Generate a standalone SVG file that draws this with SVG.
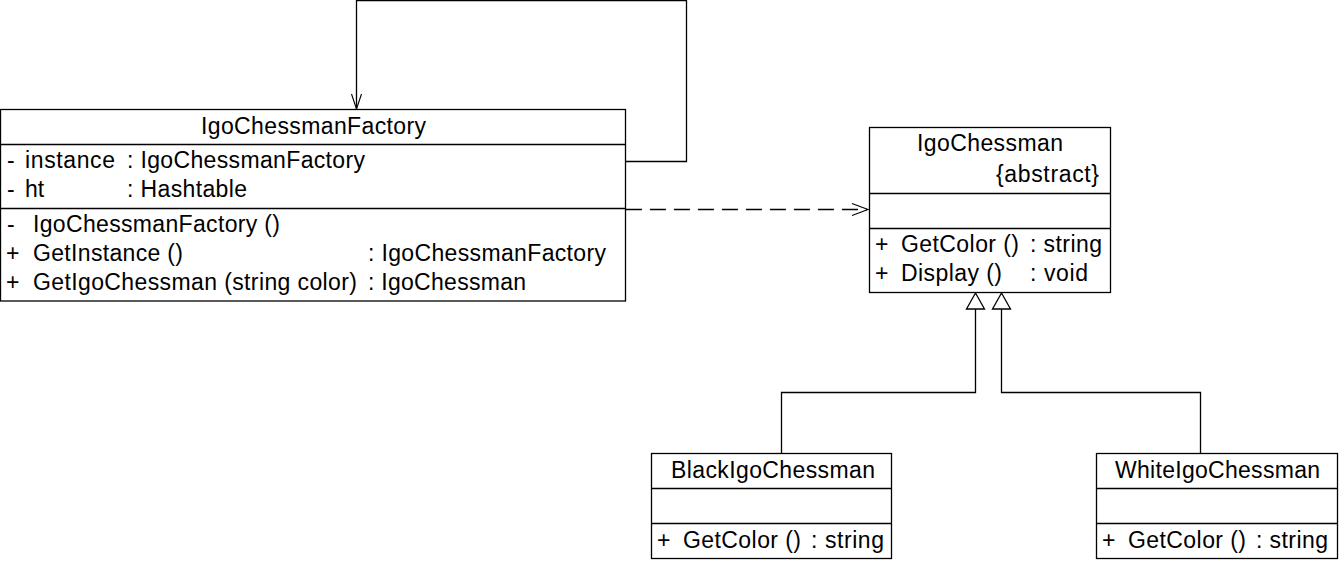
<svg xmlns="http://www.w3.org/2000/svg" width="1340" height="561" viewBox="0 0 1340 561">
<style>
.box{fill:#fff;stroke:#000;stroke-width:1.3}
.ln{fill:none;stroke:#000;stroke-width:1.3}
.dash{fill:none;stroke:#000;stroke-width:1.3;stroke-dasharray:16,8}
.head{fill:none;stroke:#000;stroke-width:1.1}
.tri{fill:#fff;stroke:#000;stroke-width:1.3}
text{font-family:"Liberation Sans",Arial,sans-serif;font-size:23px;fill:#000}
</style>
<rect width="1340" height="561" fill="#fff"/>
<g id="connectors">
<polyline class="ln" points="625.5,161.5 686.5,161.5 686.5,0.5 356.5,0.5 356.5,109"/>
<polyline class="head" points="351.5,94 356.5,109 361.5,94"/>
<line class="dash" x1="626" y1="209.5" x2="867" y2="209.5"/>
<polyline class="head" points="852,203.5 868,209.5 852,215.5"/>
<polyline class="ln" points="975.5,309 975.5,392.5 781.5,392.5 781.5,453"/>
<polygon class="tri" points="975.5,293 966.5,309 984.5,309"/>
<polyline class="ln" points="1001.5,309 1001.5,392.5 1200.5,392.5 1200.5,453"/>
<polygon class="tri" points="1001.5,293 992.5,309 1010.5,309"/>
</g>
<g id="IgoChessmanFactory">
<rect class="box" x="0.5" y="109.5" width="625" height="191.5"/>
<line class="ln" x1="0.5" y1="144.5" x2="625.5" y2="144.5"/>
<line class="ln" x1="0.5" y1="208.5" x2="625.5" y2="208.5"/>
<text x="201" y="134" textLength="225" lengthAdjust="spacing">IgoChessmanFactory</text>
<text x="7" y="168">-</text><text x="25" y="168" textLength="90" lengthAdjust="spacing">instance</text><text x="127" y="168" textLength="238" lengthAdjust="spacing">: IgoChessmanFactory</text>
<text x="7" y="197">-</text><text x="25" y="197">ht</text><text x="127" y="197" textLength="120" lengthAdjust="spacing">: Hashtable</text>
<text x="7" y="232">-</text><text x="33" y="232" textLength="247" lengthAdjust="spacing">IgoChessmanFactory ()</text>
<text x="6" y="261">+</text><text x="33" y="261" textLength="150" lengthAdjust="spacing">GetInstance ()</text><text x="368" y="261" textLength="238" lengthAdjust="spacing">: IgoChessmanFactory</text>
<text x="6" y="290">+</text><text x="33" y="290" textLength="324" lengthAdjust="spacing">GetIgoChessman (string color)</text><text x="368" y="290" textLength="158" lengthAdjust="spacing">: IgoChessman</text>
</g>
<g id="IgoChessman">
<rect class="box" x="869.5" y="127.5" width="241" height="165"/>
<line class="ln" x1="869.5" y1="193.5" x2="1110.5" y2="193.5"/>
<line class="ln" x1="869.5" y1="228.5" x2="1110.5" y2="228.5"/>
<text x="917" y="151" textLength="146" lengthAdjust="spacing">IgoChessman</text>
<text x="996" y="182" textLength="103" lengthAdjust="spacing">{abstract}</text>
<text x="875" y="252">+</text><text x="901" y="252" textLength="118" lengthAdjust="spacing">GetColor ()</text><text x="1030" y="252" textLength="72" lengthAdjust="spacing">: string</text>
<text x="875" y="281">+</text><text x="901" y="281" textLength="101" lengthAdjust="spacing">Display ()</text><text x="1030" y="281" textLength="58" lengthAdjust="spacing">: void</text>
</g>
<g id="BlackIgoChessman">
<rect class="box" x="651.5" y="453.5" width="240" height="105"/>
<line class="ln" x1="651.5" y1="488.5" x2="891.5" y2="488.5"/>
<line class="ln" x1="651.5" y1="523.5" x2="891.5" y2="523.5"/>
<text x="671" y="478" textLength="204" lengthAdjust="spacing">BlackIgoChessman</text>
<text x="657" y="548">+</text><text x="683" y="548" textLength="118" lengthAdjust="spacing">GetColor ()</text><text x="811" y="548" textLength="73" lengthAdjust="spacing">: string</text>
</g>
<g id="WhiteIgoChessman">
<rect class="box" x="1096.5" y="453.5" width="241" height="105"/>
<line class="ln" x1="1096.5" y1="488.5" x2="1337.5" y2="488.5"/>
<line class="ln" x1="1096.5" y1="523.5" x2="1337.5" y2="523.5"/>
<text x="1115" y="478" textLength="205" lengthAdjust="spacing">WhiteIgoChessman</text>
<text x="1102" y="548">+</text><text x="1128" y="548" textLength="118" lengthAdjust="spacing">GetColor ()</text><text x="1256" y="548" textLength="72" lengthAdjust="spacing">: string</text>
</g>
</svg>
